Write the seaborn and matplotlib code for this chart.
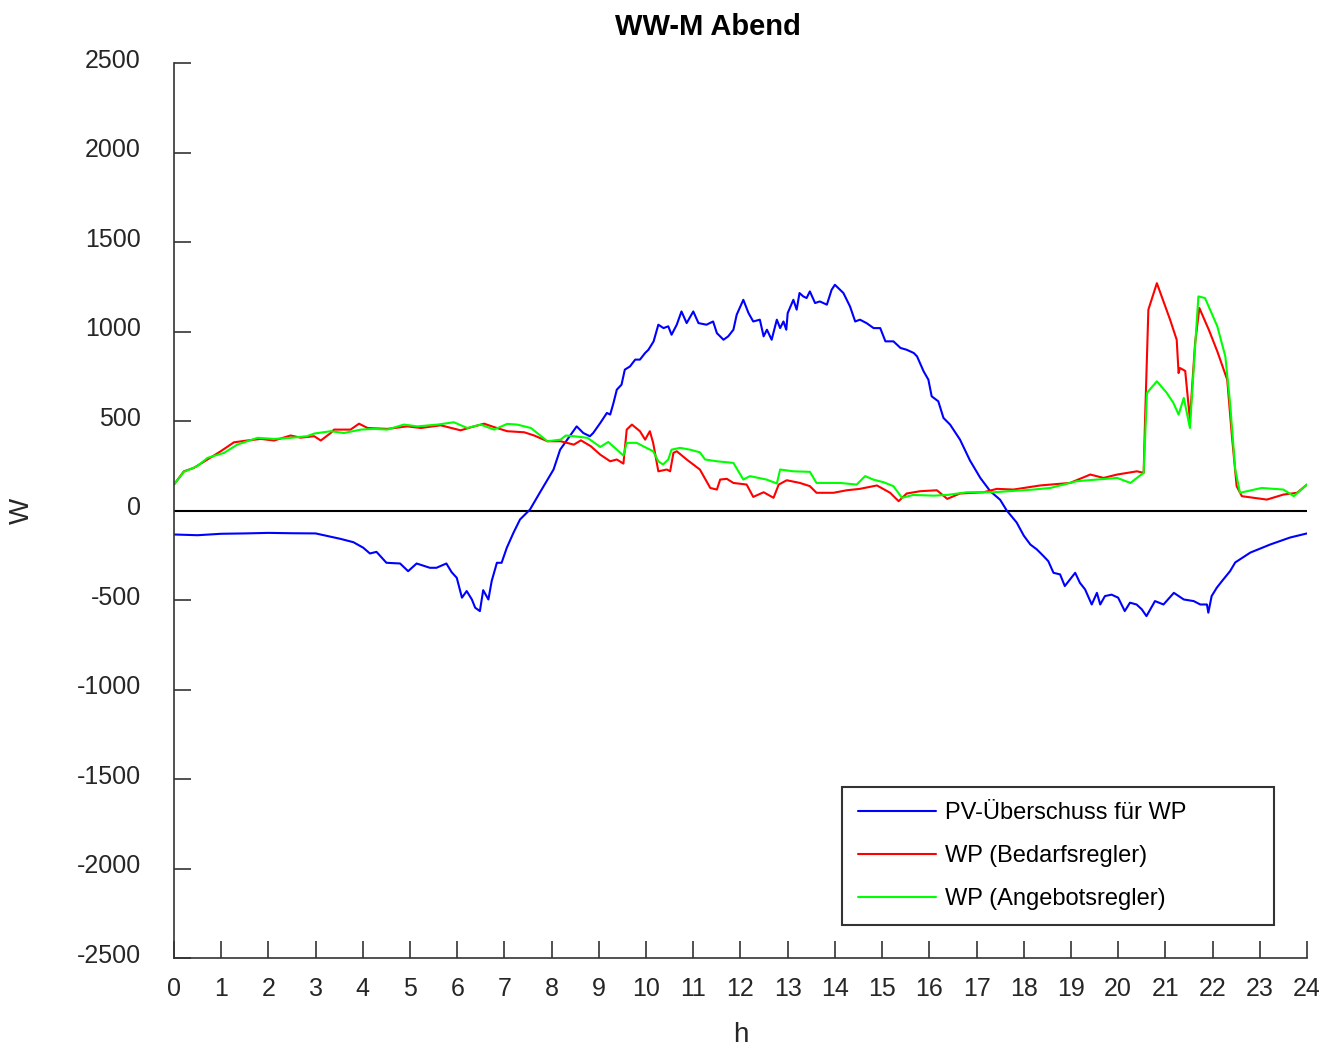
import numpy as np
import pandas as pd
import matplotlib
matplotlib.use("Agg")
import matplotlib.pyplot as plt
import matplotlib.transforms as mtransforms
import seaborn as sns

# Stunden (h) und Leistungen (W)
pv_h = [0.0, 0.5, 1.0, 1.5, 2.0, 2.5, 3.0, 3.52, 3.8, 4.01, 4.15, 4.29, 4.5, 4.79, 4.96,
        5.14, 5.42, 5.56, 5.77, 5.88, 5.99, 6.1, 6.2, 6.31, 6.38, 6.48, 6.55, 6.66, 6.73,
        6.84, 6.94, 7.05, 7.19, 7.33, 7.54, 7.75, 8.04, 8.18, 8.53, 8.67, 8.81, 8.88, 9.03,
        9.17, 9.24, 9.31, 9.38, 9.48, 9.55, 9.66, 9.77, 9.87, 9.98, 10.05, 10.16, 10.26,
        10.37, 10.47, 10.54, 10.65, 10.75, 10.86, 11.0, 11.11, 11.28, 11.42, 11.5, 11.64,
        11.74, 11.85, 11.92, 12.06, 12.17, 12.27, 12.41, 12.49, 12.56, 12.66, 12.77, 12.84,
        12.91, 12.97, 13.0, 13.12, 13.19, 13.25, 13.33, 13.4, 13.47, 13.58, 13.68, 13.83,
        13.93, 14.0, 14.18, 14.32, 14.43, 14.53, 14.67, 14.82, 14.96, 15.07, 15.24, 15.39,
        15.52, 15.67, 15.74, 15.88, 15.98, 16.05, 16.19, 16.3, 16.44, 16.58, 16.65, 16.86,
        17.08, 17.29, 17.5, 17.64, 17.85, 18.0, 18.14, 18.28, 18.42, 18.52, 18.63, 18.77,
        18.87, 18.98, 19.09, 19.19, 19.3, 19.44, 19.55, 19.62, 19.72, 19.86, 20.0, 20.14,
        20.25, 20.39, 20.5, 20.6, 20.78, 20.96, 21.18, 21.39, 21.6, 21.74, 21.88, 21.91,
        21.98, 22.09, 22.2, 22.37, 22.48, 22.8, 23.22, 23.64, 24.0]
pv_w = [-134, -138, -130, -128, -125, -127, -128, -158, -177, -208, -240, -231, -292, -296, -339,
        -296, -320, -320, -296, -344, -376, -487, -450, -497, -543, -562, -445, -497, -394,
        -292, -292, -208, -125, -50, 5, 100, 229, 340, 470, 433, 415, 433, 489,
        545, 536, 601, 675, 703, 787, 805, 843, 843, 880, 898, 945, 1038,
        1019, 1029, 982, 1038, 1112, 1047, 1112, 1047, 1038, 1056, 991, 954,
        973, 1010, 1094, 1177, 1103, 1056, 1066, 973, 1010, 954, 1066, 1019,
        1056, 1010, 1103, 1177, 1122, 1215, 1196, 1187, 1224, 1159, 1168, 1150,
        1233, 1261, 1215, 1140, 1056, 1066, 1047, 1019, 1019, 945, 945, 908,
        898, 880, 861, 777, 731, 638, 610, 517, 480, 424, 396, 280,
        182, 108, 60, 0, -67, -140, -190, -218, -255, -283, -348, -357,
        -422, -385, -348, -404, -441, -525, -460, -525, -478, -470, -487, -562,
        -515, -525, -552, -590, -506, -525, -460, -497, -506, -525, -525, -571,
        -478, -431, -394, -339, -290, -235, -190, -151, -128]

bed_h = [0.0, 0.21, 0.42, 0.71, 0.99, 1.27, 1.55, 1.84, 2.12, 2.47, 2.68, 2.97, 3.11, 3.32,
         3.39, 3.74, 3.92, 4.1, 4.52, 4.94, 5.23, 5.65, 6.07, 6.36, 6.57, 6.78, 7.06, 7.42,
         7.63, 7.91, 8.19, 8.47, 8.62, 8.83, 9.03, 9.24, 9.38, 9.52, 9.59, 9.7, 9.87, 9.98,
         10.08, 10.15, 10.26, 10.44, 10.51, 10.58, 10.65, 10.86, 11.14, 11.36, 11.5, 11.57,
         11.71, 11.85, 12.13, 12.27, 12.49, 12.7, 12.81, 12.98, 13.26, 13.47, 13.61, 13.97,
         14.25, 14.53, 14.89, 15.17, 15.35, 15.52, 15.81, 16.16, 16.38, 16.65, 17.15, 17.43,
         17.78, 18.35, 18.98, 19.41, 19.69, 19.98, 20.4, 20.54, 20.57, 20.64, 20.82, 21.1,
         21.24, 21.28, 21.31, 21.42, 21.52, 21.63, 21.72, 21.92, 22.1, 22.31, 22.41, 22.51,
         22.62, 23.15, 23.5, 23.79, 24.0]
bed_w = [145, 219, 238, 285, 331, 381, 391, 400, 391, 419, 407, 415, 391, 433,
         452, 452, 485, 461, 456, 470, 461, 476, 448, 470, 485, 466, 443, 437,
         419, 387, 387, 368, 392, 359, 312, 275, 285, 262, 452, 480, 443, 396,
         443, 378, 219, 229, 219, 322, 331, 285, 229, 126, 117, 173,
         177, 154, 145, 76, 102, 71, 145, 169, 154, 136, 99, 99,
         113, 121, 140, 99, 52, 95, 108, 113, 65, 95, 102, 121,
         117, 140, 154, 201, 182, 201, 219, 210, 508, 1122, 1270, 1066,
         954, 768, 796, 780, 508, 936, 1131, 1010, 889, 731, 415, 136,
         80, 61, 89, 99, 145]

ang_h = [0.0, 0.21, 0.49, 0.71, 1.06, 1.34, 1.77, 2.12, 2.47, 2.82, 2.97, 3.32, 3.6, 3.96,
         4.24, 4.52, 4.87, 5.16, 5.58, 5.93, 6.21, 6.5, 6.78, 7.06, 7.27, 7.56, 7.91, 8.19,
         8.3, 8.47, 8.76, 9.03, 9.2, 9.52, 9.59, 9.8, 9.94, 10.15, 10.26, 10.36, 10.47, 10.54,
         10.72, 10.93, 11.14, 11.25, 11.5, 11.85, 12.06, 12.2, 12.55, 12.77, 12.84, 13.12,
         13.47, 13.61, 14.11, 14.46, 14.64, 14.81, 15.03, 15.24, 15.42, 15.66, 16.09, 16.38,
         16.8, 17.36, 18.2, 18.56, 19.13, 19.55, 19.98, 20.26, 20.46, 20.54, 20.61, 20.82,
         21.03, 21.17, 21.28, 21.39, 21.52, 21.63, 21.7, 21.84, 22.1, 22.27, 22.37, 22.48,
         22.58, 23.04, 23.5, 23.72, 24.0]
ang_w = [145, 216, 247, 294, 322, 368, 406, 400, 406, 415, 430, 443, 433, 452,
         456, 452, 480, 470, 480, 493, 461, 480, 452, 484, 480, 461, 387, 396,
         419, 415, 406, 355, 383, 307, 378, 378, 359, 331, 275, 257, 285, 340,
         350, 340, 325, 285, 275, 266, 173, 192, 173, 151, 229, 219,
         216, 154, 154, 145, 192, 173, 158, 136, 71, 87, 83, 87,
         102, 102, 117, 126, 164, 173, 182, 154, 195, 210, 657, 722,
         657, 601, 536, 629, 461, 917, 1196, 1187, 1029, 861, 601, 229,
         99, 126, 117, 80, 145]

series_names = ["PV-Überschuss für WP", "WP (Bedarfsregler)", "WP (Angebotsregler)"]
series_colors = ["#0000ff", "#ff0000", "#00ff00"]

x_ticks = list(range(0, 25))
y_ticks = list(range(-2500, 2501, 500))

sns.set_style("ticks")
plt.rcParams['font.family'] = ['Liberation Sans', 'DejaVu Sans']

fig = plt.figure(figsize=(13.19, 10.5), dpi=100)
ax = fig.add_axes([0.1319, 0.0876, 0.859, 0.8524])

frames = [(pv_h, pv_w), (bed_h, bed_w), (ang_h, ang_w)]
for (hh, ww), name, col in zip(frames, series_names, series_colors):
    df = pd.DataFrame({'h': hh, 'W': ww})
    sns.lineplot(data=df, x='h', y='W', ax=ax, color=col, linewidth=1.5,
                 label=name, sort=False, estimator=None)

# Nulllinie
ax.axhline(0, color='black', linewidth=1.5, zorder=1)

ax.set_xlim(0, 24)
ax.set_ylim(-2500, 2500)
ax.set_xticks(x_ticks)
ax.set_yticks(y_ticks)
ax.set_xticklabels([str(t) for t in x_ticks])
ax.set_yticklabels([str(t) for t in y_ticks])

sns.despine(ax=ax)
for side in ['left', 'bottom']:
    ax.spines[side].set_color('#333333')
    ax.spines[side].set_linewidth(1.2)
ax.tick_params(axis='both', direction='in', length=12, width=1.2, color='#333333',
               labelcolor='#262626', labelsize=18)
ax.tick_params(axis='x', pad=14)
ax.tick_params(axis='y', pad=24)

# Y-Beschriftungen etwas nach oben (wie im Original)
offset = mtransforms.ScaledTranslation(0, 5 / 100, fig.dpi_scale_trans)
for lbl in ax.get_yticklabels():
    lbl.set_transform(lbl.get_transform() + offset)

ax.set_title('WW-M Abend', fontsize=21, fontweight='bold', pad=20, color='black', x=0.471)
ax.set_xlabel('h', fontsize=20, labelpad=15, color='#262626')
ax.set_ylabel('W', fontsize=20, labelpad=30, color='#262626')

leg = ax.legend(loc='upper left', bbox_to_anchor=(0.590, 0.038, 0.381, 0.153),
                mode='expand', borderaxespad=0,
                fontsize=17, frameon=True, fancybox=False, handlelength=3.3,
                labelspacing=0.88, borderpad=0.65, handletextpad=0.4, labelcolor='black')
leg.get_frame().set_edgecolor('#333333')
leg.get_frame().set_linewidth(1.5)
leg.get_frame().set_alpha(1)

fig.savefig('out.png', dpi=100)
